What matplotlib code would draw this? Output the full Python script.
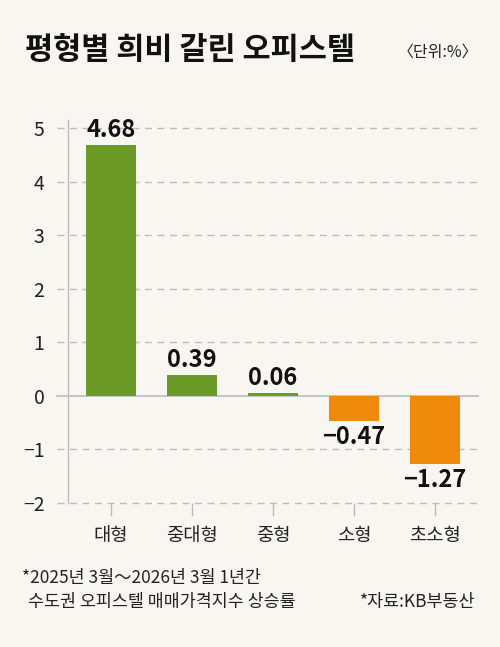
import matplotlib.pyplot as plt

plt.rcParams['font.family'] = ['Noto Sans CJK KR', 'DejaVu Sans']

# 데이터
categories = ['대형', '중대형', '중형', '소형', '초소형']
values = [4.68, 0.39, 0.06, -0.47, -1.27]
value_labels = ['4.68', '0.39', '0.06', '−0.47', '−1.27']
y_ticks = [5, 4, 3, 2, 1, 0, -1, -2]
y_tick_labels = ['5', '4', '3', '2', '1', '0', '−1', '−2']

bg = '#f7f6f1'
green = '#6b9a26'
orange = '#f08a0c'
grid_c = '#bcbcbc'

fig = plt.figure(figsize=(5, 6.47), dpi=100, facecolor=bg)
ax = fig.add_axes([0.136, 0.2226, 0.820, 0.592])
ax.set_facecolor(bg)

x = list(range(len(categories)))
colors = [green if v >= 0 else orange for v in values]
ax.bar(x, values, width=0.61, color=colors, zorder=3)

ax.set_xlim(-0.53, 4.53)
ax.set_ylim(-2, 5.15)

# 격자선 (축 왼쪽까지 살짝 튀어나옴)
for t in y_ticks:
    if t == 0:
        ax.plot([-0.66, 4.53], [0, 0], color=grid_c, lw=1.2, clip_on=False, zorder=2)
    else:
        ax.plot([-0.66, 4.53], [t, t], color=grid_c, lw=1.0, ls=(0, (5, 4)),
                clip_on=False, zorder=1)

for s in ['top', 'right', 'bottom']:
    ax.spines[s].set_visible(False)
ax.spines['left'].set_color(grid_c)
ax.spines['left'].set_linewidth(1.0)

ax.set_yticks(y_ticks)
ax.set_yticklabels(y_tick_labels, fontsize=14, color='#222222')
ax.tick_params(axis='y', length=0, pad=17)
ax.set_xticks(x)
ax.set_xticklabels(categories, fontsize=13.5, color='#222222')
ax.tick_params(axis='x', length=9, color=grid_c, width=1.0, pad=7)

# 막대 값 표시
for xi, v, lab in zip(x, values, value_labels):
    if v >= 0:
        ax.annotate(lab, (xi, v), xytext=(0, 2), textcoords='offset points',
                    ha='center', va='bottom', fontsize=17, fontweight='bold', color='#111111')
    else:
        ax.annotate(lab, (xi, v), xytext=(0, -3), textcoords='offset points',
                    ha='center', va='top', fontsize=17, fontweight='bold', color='#111111')

fig.text(0.05, 0.922, '평형별 희비 갈린 오피스텔', fontsize=22, fontweight='bold',
         ha='left', va='center', color='#111111')
fig.text(0.956, 0.920, '〈단위:%〉', fontsize=11.5, ha='right', va='center', color='#222222')

fig.text(0.045, 0.107, '*2025년 3월～2026년 3월 1년간', fontsize=12.5, ha='left', va='center', color='#222222')
fig.text(0.055, 0.069, '수도권 오피스텔 매매가격지수 상승률', fontsize=12.5, ha='left', va='center', color='#222222')
fig.text(0.950, 0.069, '*자료:KB부동산', fontsize=12.5, ha='right', va='center', color='#222222')

fig.savefig('out.png', dpi=100, facecolor=bg)
